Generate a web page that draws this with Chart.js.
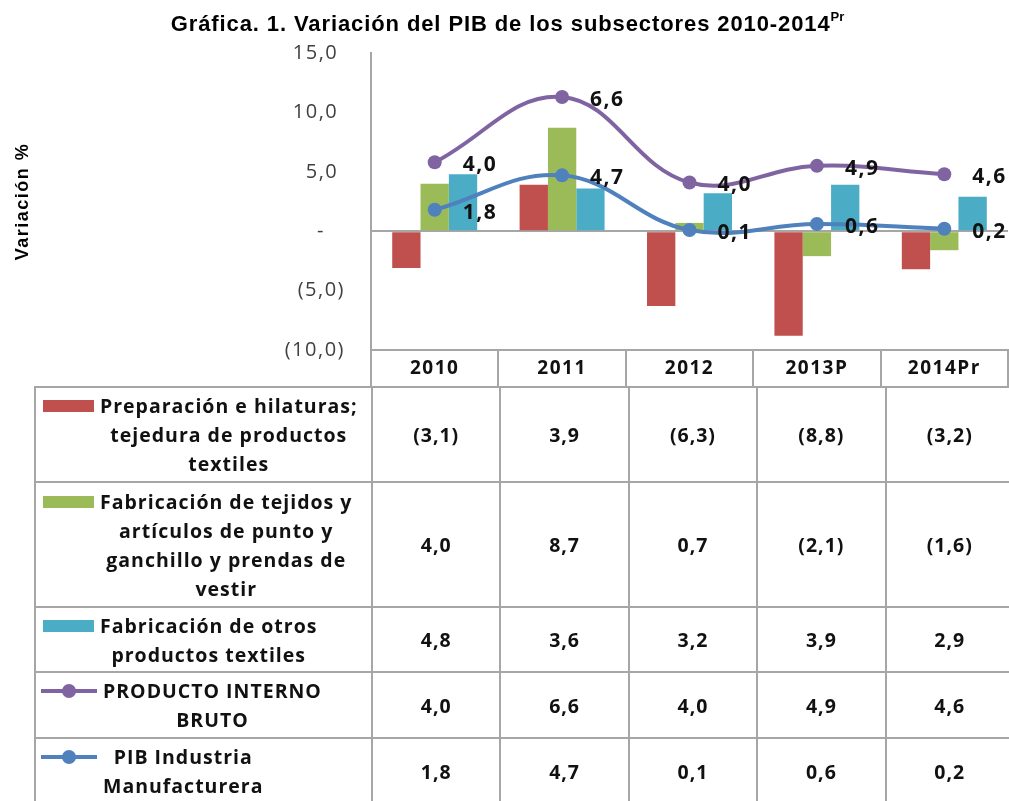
<!DOCTYPE html>
<html>
<head>
<meta charset="utf-8">
<script src="https://cdn.jsdelivr.net/npm/chart.js@4.4.1/dist/chart.umd.min.js"></script>
<style>
  html, body { margin: 0; padding: 0; background: #fff; overflow: hidden; width: 1009px; height: 801px; }
  #wrap { position: relative; width: 1015px; height: 801px; }
  #title { position: absolute; left: 0; top: 11px; width: 1015px; text-align: center;
    font: bold 22px "Liberation Sans", Arial, sans-serif; letter-spacing: 0.9px; color: #000; }
  #title sup { font-size: 13px; vertical-align: 10px; line-height: 0; letter-spacing: 0; }
  #chart { position: absolute; left: 0; top: 0; }
  #tabla { position: absolute; left: 34px; top: 386px; border-collapse: collapse; table-layout: fixed;
    font: bold 19.5px "Open Sans", sans-serif; letter-spacing: 1px; color: #111; }
  #tabla td { border: 2px solid #a6a6a6; text-align: center; vertical-align: middle; padding: 0; }
  #tabla td.leg { text-align: left; padding-left: 7px; }
  .legIn { display: flex; align-items: flex-start; }
  .txt { margin-left: 6px; text-align: center; line-height: 29px; white-space: nowrap; }
  .keyBar { flex: none; width: 51px; height: 12px; margin-top: 9px; }
  .keyLine { flex: none; position: relative; width: 56px; height: 14px; margin-top: 8px; margin-left: -2px; }
  .keyLine .ln { position: absolute; left: 0; right: 0; top: 5px; height: 4px; }
  .keyLine .dot { position: absolute; left: 21px; top: 0; width: 14px; height: 14px; border-radius: 50%; }
</style>
</head>
<body>
<div id="wrap">
  <canvas id="chart" width="1015" height="388"></canvas>
  <div id="title">Gráfica. 1. Variación del PIB de los subsectores 2010-2014<sup>Pr</sup></div>
  <table id="tabla"></table>
</div>
<script>
// categorías y series (variación %)
const years = ['2010', '2011', '2012', '2013P', '2014Pr'];
const preparacion = [-3.1, 3.9, -6.3, -8.8, -3.2];
const tejidos = [4.0, 8.7, 0.7, -2.1, -1.6];
const otrosTextiles = [4.8, 3.6, 3.2, 3.9, 2.9];
const pibTotal = [4.0, 6.6, 4.0, 4.9, 4.6];
const pibManufactura = [1.8, 4.7, 0.1, 0.6, 0.2];

// nombres de las series, en líneas como en la tabla
const namePreparacion = ['Preparación e hilaturas;', 'tejedura de productos', 'textiles'];
const nameTejidos = ['Fabricación de tejidos y', 'artículos de punto y', 'ganchillo y prendas de', 'vestir'];
const nameOtros = ['Fabricación de otros', 'productos textiles'];
const namePib = ['PRODUCTO INTERNO', 'BRUTO'];
const nameManuf = ['PIB Industria', 'Manufacturera'];

const yMin = -10, yMax = 15, yStep = 5;

const colors = {
  red: '#C0504D', green: '#9BBB59', teal: '#4BACC6', purple: '#8064A2', blue: '#4F81BD'
};
const gridGray = '#a6a6a6';

// formato contable: coma decimal y negativos entre paréntesis
const fmt = v => {
  const s = Math.abs(v).toFixed(1).replace('.', ',');
  return v < 0 ? '(' + s + ')' : s;
};

// el texto del original es más ancho: un poco de espaciado entre letras
const textSpacing = {
  id: 'textSpacing',
  beforeDraw(chart) { chart.ctx.letterSpacing = '1.5px'; }
};

// etiquetas de los puntos (valor original, no el apilado)
const pointLabels = {
  id: 'pointLabels',
  afterDatasetsDraw(chart) {
    const c = chart.ctx;
    c.save();
    c.font = 'bold 21px "Open Sans"';
    c.fillStyle = '#111';
    c.textAlign = 'left';
    c.textBaseline = 'middle';
    chart.data.datasets.forEach((ds, i) => {
      if (ds.type !== 'line') return;
      chart.getDatasetMeta(i).data.forEach((pt, j) => {
        c.fillText(fmt(ds.data[j]), pt.x + 28, pt.y + 3);
      });
    });
    c.restore();
  }
};

const lineStyle = color => ({
  type: 'line',
  yAxisID: 'yStack',
  stack: 'pib',
  borderColor: color,
  backgroundColor: color,
  borderWidth: 4,
  pointRadius: 7,
  pointBorderWidth: 0,
  tension: 0.4,
  fill: false,
  order: 0
});

new Chart(document.getElementById('chart'), {
  type: 'bar',
  data: {
    labels: years,
    datasets: [
      // en el original las líneas están apiladas (el PIB se dibuja sobre la manufactura)
      { ...lineStyle(colors.blue), label: nameManuf.join(' '), data: pibManufactura },
      { ...lineStyle(colors.purple), label: namePib.join(' '), data: pibTotal },
      { label: namePreparacion.join(' '), data: preparacion, backgroundColor: colors.red, yAxisID: 'y', order: 1 },
      { label: nameTejidos.join(' '), data: tejidos, backgroundColor: colors.green, yAxisID: 'y', order: 1 },
      { label: nameOtros.join(' '), data: otrosTextiles, backgroundColor: colors.teal, yAxisID: 'y', order: 1 }
    ]
  },
  options: {
    responsive: false,
    animation: false,
    layout: { padding: { top: 53, right: 1, left: 0, bottom: 0 } },
    datasets: { bar: { categoryPercentage: 0.667, barPercentage: 1 } },
    plugins: { legend: { display: false }, tooltip: { enabled: false }, title: { display: false } },
    scales: {
      x: {
        grid: { drawOnChartArea: false, offset: true, tickLength: 37, color: gridGray, lineWidth: 2 },
        border: { color: gridGray, width: 2 },
        ticks: { padding: -30, color: '#111', font: { family: 'Open Sans', size: 19, weight: 'bold' } },
        afterFit: s => { s.height = 38; }
      },
      y: {
        min: yMin, max: yMax,
        ticks: {
          stepSize: yStep, padding: 26, color: '#404040',
          font: { family: 'Open Sans', size: 20 },
          callback: v => v === 0 ? '-   ' : (v > 0 ? fmt(v) + ' ' : fmt(v))
        },
        grid: { drawTicks: false, lineWidth: 2, color: c => c.tick && c.tick.value === 0 ? gridGray : 'rgba(0,0,0,0)' },
        border: { color: gridGray, width: 2 },
        title: {
          display: true, text: 'Variación %', color: '#000',
          font: { family: 'Liberation Sans', size: 18, weight: 'bold' },
          padding: { top: 12, bottom: 0 }
        },
        afterFit: s => { s.width = 371; }
      },
      yStack: { display: false, stacked: true, min: yMin, max: yMax }
    }
  },
  plugins: [textSpacing, pointLabels]
});

// tabla de datos debajo del gráfico
const rows = [
  { name: namePreparacion, values: preparacion, color: colors.red, key: 'bar', h: 95 },
  { name: nameTejidos, values: tejidos, color: colors.green, key: 'bar', h: 125 },
  { name: nameOtros, values: otrosTextiles, color: colors.teal, key: 'bar', h: 65 },
  { name: namePib, values: pibTotal, color: colors.purple, key: 'line', h: 66 },
  { name: nameManuf, values: pibManufactura, color: colors.blue, key: 'line', h: 66 }
];

const tabla = document.getElementById('tabla');
let html = '<colgroup><col style="width:337px">' + years.map(() => '<col style="width:128.6px">').join('') + '</colgroup>';
rows.forEach(r => {
  const key = r.key === 'bar'
    ? `<span class="keyBar" style="background:${r.color}"></span>`
    : `<span class="keyLine"><span class="ln" style="background:${r.color}"></span><span class="dot" style="background:${r.color}"></span></span>`;
  html += `<tr style="height:${r.h}px"><td class="leg"><div class="legIn">${key}<div class="txt">${r.name.join('<br>')}</div></div></td>`;
  html += r.values.map(v => `<td>${fmt(v)}</td>`).join('') + '</tr>';
});
tabla.innerHTML = html;
</script>
</body>
</html>
